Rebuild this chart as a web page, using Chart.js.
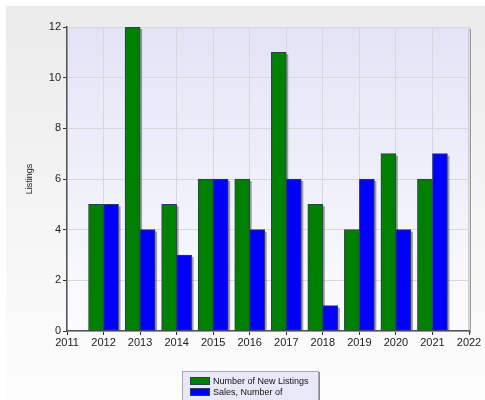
<!DOCTYPE html>
<html lang="en">
<head>
<meta charset="utf-8">
<title>Listings</title>
<script src="https://cdn.jsdelivr.net/npm/chart.js@4.4.1/dist/chart.umd.min.js"></script>
<style>
    body { margin: 0; background: #fff; }
    #wrap { position: relative; width: 485px; height: 400px; overflow: hidden; }
    #panel { position: absolute; left: 6px; top: 6px; right: 0; bottom: 0; background: linear-gradient(#ebebeb, #fdfdfd); }
    #wrap canvas { position: absolute; left: 0; top: 0; }
    #legend {
        position: absolute; left: 182px; top: 371px; width: 137px; height: 40px;
        background: #e8e8f8; border: 1px solid #a8a8b0; box-shadow: 1px 1px 0 #8a8a8a;
        font: 9px "Liberation Sans", Arial, sans-serif; color: #111; padding: 4px 0 0 7px; box-sizing: border-box;
    }
    #legend div { height: 11px; line-height: 10px; white-space: nowrap; }
    #legend span { display: inline-block; width: 18px; height: 6px; border: 1px solid #2c3e50; vertical-align: -1px; margin-right: 3px; }
</style>
</head>
<body>
<div id="wrap">
    <div id="panel"></div>
    <canvas id="chart" width="485" height="400"></canvas>
    <div id="legend"></div>
</div>
<script>
// years along the bottom axis; first and last are empty end markers
const years = ['2011', '2012', '2013', '2014', '2015', '2016', '2017', '2018', '2019', '2020', '2021', '2022'];
const newListings = [null, 5, 12, 5, 6, 6, 11, 5, 4, 7, 6, null];
const sales = [null, 5, 4, 3, 6, 4, 6, 1, 6, 4, 7, null];
const yMax = 12;
const yStep = 2;

// plot background gradient, frame and bar drop shadows
const plotBackdrop = {
    id: 'plotBackdrop',
    beforeDraw(chart) {
        const { ctx, chartArea: a } = chart;
        ctx.save();
        ctx.fillStyle = '#9c9c9c';
        ctx.fillRect(a.right, a.top + 2, 2, a.bottom - a.top);
        const g = ctx.createLinearGradient(0, a.top, 0, a.bottom);
        g.addColorStop(0, '#e3e3f6');
        g.addColorStop(1, '#fcfcff');
        ctx.fillStyle = g;
        ctx.fillRect(a.left, a.top, a.right - a.left, a.bottom - a.top);
        ctx.strokeStyle = '#d0d0d0';
        ctx.lineWidth = 1;
        ctx.strokeRect(a.left + 0.5, a.top + 0.5, a.right - a.left - 1, a.bottom - a.top);
        ctx.restore();
    },
    beforeDatasetsDraw(chart) {
        const { ctx, chartArea: a } = chart;
        ctx.save();
        ctx.beginPath();
        ctx.rect(a.left, a.top, a.right - a.left, a.bottom - a.top);
        ctx.clip();
        ctx.fillStyle = 'rgba(70, 70, 70, 0.5)';
        chart.data.datasets.forEach((ds, i) => {
            chart.getDatasetMeta(i).data.forEach((bar, j) => {
                if (ds.data[j] == null) return;
                const p = bar.getProps(['x', 'y', 'base', 'width'], true);
                ctx.fillRect(p.x - p.width / 2 + 2, p.y + 2, p.width, p.base - p.y - 2);
            });
        });
        ctx.restore();
    }
};

const tickFont = { family: '"Liberation Sans", Arial, sans-serif', size: 11 };

const chart = new Chart(document.getElementById('chart'), {
    type: 'bar',
    data: {
        labels: years,
        datasets: [
            { label: 'Number of New Listings', data: newListings, backgroundColor: '#008000', borderColor: '#2c3e50', borderWidth: 1, borderSkipped: false, barThickness: 15 },
            { label: 'Sales, Number of', data: sales, backgroundColor: '#0000ff', borderColor: '#2c3e50', borderWidth: 1, borderSkipped: false, barThickness: 15 }
        ]
    },
    options: {
        responsive: false,
        animation: false,
        layout: { padding: { left: 20, top: 27, right: 16, bottom: 0 } },
        plugins: { legend: { display: false }, tooltip: { enabled: false } },
        scales: {
            x: {
                type: 'category',
                offset: false,
                afterFit: s => { s.height = 69; },
                grid: { color: '#d8d8d8', tickColor: '#333', tickLength: 4, offset: false },
                border: { color: '#555', width: 1.5 },
                ticks: { color: '#222', font: tickFont, maxRotation: 0, autoSkip: false, padding: 1 }
            },
            y: {
                min: 0,
                max: yMax,
                afterFit: s => { s.width = 47; },
                grid: { color: '#d8d8d8', tickColor: '#333', tickLength: 4 },
                border: { color: '#555', width: 1.5 },
                ticks: { stepSize: yStep, color: '#222', font: tickFont, padding: 2 },
                title: { display: true, text: 'Listings', color: '#222', font: { family: '"Liberation Sans", Arial, sans-serif', size: 9 }, padding: { top: 4, bottom: 0 } }
            }
        }
    },
    plugins: [plotBackdrop]
});

// legend box under the plot
document.getElementById('legend').innerHTML = chart.data.datasets
    .map(ds => `<div><span style="background:${ds.backgroundColor}"></span>${ds.label}</div>`)
    .join('');
</script>
</body>
</html>
